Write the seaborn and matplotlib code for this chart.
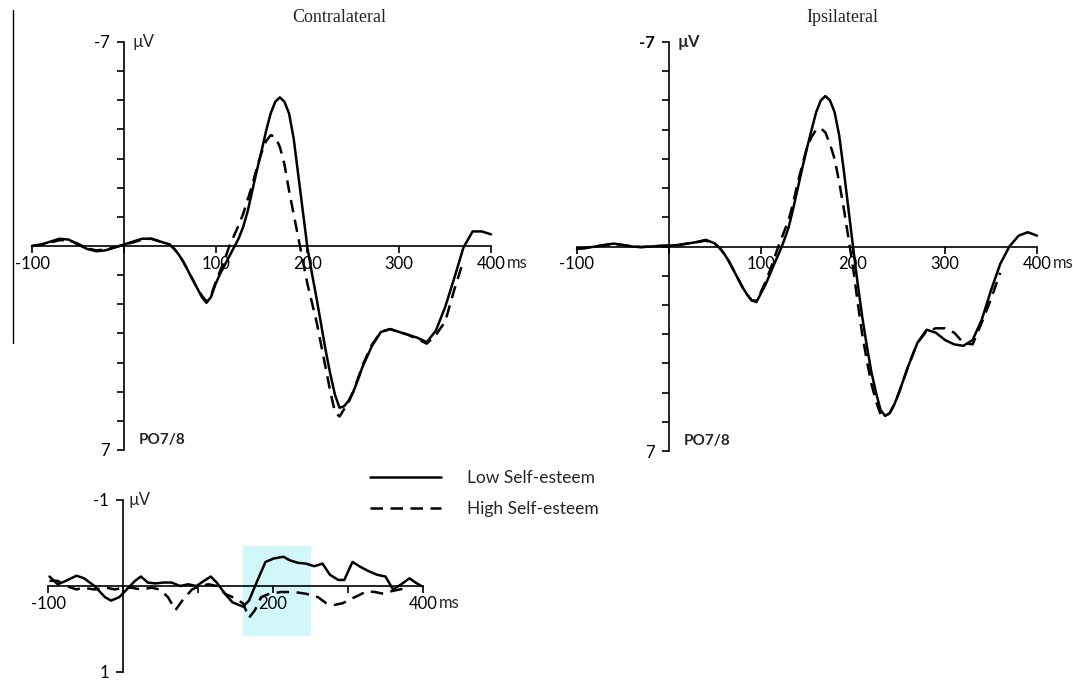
import numpy as np
import pandas as pd
import seaborn as sns
import matplotlib
matplotlib.use("Agg")
import matplotlib.pyplot as plt
from matplotlib.lines import Line2D

# ---- data (ms, µV; negative is drawn upward) ----
groups = ["Low Self-esteem", "High Self-esteem"]

# sampled every 10 ms, every 5 ms through the steep components
t_main = ([-100, -90, -80, -70, -60, -50, -40, -30, -20, -10, 0, 10, 20, 30, 40]
          + list(range(50, 261, 5)) + list(range(270, 401, 10)))

contra_low = [0.0, -0.05, -0.15, -0.25, -0.22, -0.05, 0.1, 0.18, 0.15, 0.05,
              -0.05, -0.15, -0.25, -0.25, -0.15,
              -0.05, 0.1, 0.3, 0.55, 0.85, 1.15, 1.45, 1.75, 1.95, 1.75,
              1.3, 0.95, 0.65, 0.35, 0.05, -0.25, -0.65, -1.2, -1.9, -2.6,
              -3.25, -3.95, -4.55, -4.95, -5.1, -4.95, -4.55, -3.7, -2.45, -1.2,
              0.05, 0.95, 1.8, 2.7, 3.6, 4.4, 5.1, 5.55, 5.5, 5.3,
              5.0, 4.6, 4.15,
              3.45, 2.95, 2.85, 2.95, 3.05, 3.15, 3.3, 2.9, 2.1, 1.1, 0.05, -0.5, -0.5, -0.4]
contra_high = [0.0, -0.05, -0.12, -0.2, -0.2, -0.08, 0.08, 0.15, 0.12, 0.05,
               -0.05, -0.12, -0.22, -0.25, -0.15,
               -0.05, 0.1, 0.3, 0.55, 0.85, 1.15, 1.45, 1.7, 1.9, 1.7,
               1.25, 0.85, 0.45, 0.0, -0.35, -0.7, -1.1, -1.6, -2.1, -2.7,
               -3.2, -3.6, -3.8, -3.75, -3.4, -2.8, -1.9, -1.1, -0.3, 0.5,
               1.3, 1.95, 2.6, 3.4, 4.2, 5.0, 5.7, 5.85, 5.6, 5.35,
               5.0, 4.55, 4.1,
               3.4, 2.95, 2.85, 2.95, 3.05, 3.2, 3.35, 3.05, 2.6, 1.5, 0.5]

ipsi_low = [0.08, 0.05, 0.0, -0.05, -0.1, -0.05, 0.0, 0.02, 0.0, -0.02,
            -0.03, -0.05, -0.1, -0.15, -0.23,
            -0.1, 0.05, 0.25, 0.5, 0.8, 1.1, 1.4, 1.65, 1.85, 1.9,
            1.6, 1.3, 0.93, 0.55, 0.2, -0.2, -0.65, -1.3, -2.0, -2.7,
            -3.37, -4.0, -4.6, -5.0, -5.15, -5.0, -4.6, -3.8, -2.6, -1.3,
            0.0, 1.25, 2.4, 3.4, 4.3, 5.0, 5.6, 5.8, 5.7, 5.4,
            5.0, 4.55, 4.1,
            3.3, 2.85, 2.95, 3.2, 3.35, 3.4, 3.2, 2.5, 1.5, 0.6, 0.0, -0.37, -0.49, -0.37]
ipsi_high = [0.08, 0.05, 0.0, -0.05, -0.08, -0.05, 0.0, 0.02, 0.0, -0.02,
             -0.03, -0.05, -0.1, -0.15, -0.2,
             -0.08, 0.05, 0.25, 0.5, 0.8, 1.1, 1.4, 1.65, 1.85, 1.85,
             1.55, 1.2, 0.8, 0.35, -0.1, -0.5, -0.9, -1.5, -2.2, -2.8,
             -3.4, -3.75, -4.0, -4.05, -3.9, -3.5, -3.0, -2.2, -1.3, -0.3,
             0.7, 1.9, 3.0, 3.9, 4.7, 5.3, 5.75, 5.8, 5.7, 5.4,
             5.0, 4.55, 4.1,
             3.3, 2.9, 2.8, 2.8, 2.95, 3.3, 3.35, 2.6, 1.8, 0.9]

# difference wave (contralateral minus ipsilateral)
diff_t_low = [-98, -87, -76, -62, -52, -38, -24, -16, -5, 5,
              16, 24, 33, 43, 54, 65, 76, 87, 98, 108,
              117, 125, 136, 146, 160, 168, 179, 190, 201, 214,
              222, 233, 244, 255, 266, 276, 287, 295, 306, 317,
              328, 339, 350, 360, 371, 382, 390, 398]
diff_low = [-0.11, -0.02, -0.06, -0.12, -0.09, 0.0, 0.13, 0.17, 0.13, 0.04,
            -0.06, -0.11, -0.04, -0.03, -0.04, -0.04, 0.0, -0.02, 0.0, -0.06,
            -0.11, -0.04, 0.09, 0.19, 0.24, 0.17, -0.06, -0.28, -0.32, -0.34,
            -0.3, -0.27, -0.26, -0.23, -0.26, -0.13, -0.07, -0.07, -0.28, -0.22,
            -0.17, -0.13, -0.11, 0.04, -0.02, -0.09, -0.04, 0.0]
diff_t_high = [-98, -87, -76, -62, -54, -38, -22, -11, 0, 11,
               24, 38, 49, 60, 70, 79, 92, 103, 114, 125,
               136, 146, 160, 168, 176, 184, 195, 211, 228, 244,
               260, 271, 282, 293, 304, 314, 325, 336, 347, 358,
               369, 379]
diff_high = [-0.06, -0.06, 0.0, 0.04, 0.02, 0.04, 0.02, 0.04, 0.02, 0.02,
             0.04, 0.02, 0.04, 0.13, 0.28, 0.17, 0.04, 0.0, -0.02, 0.0,
             0.09, 0.13, 0.2, 0.37, 0.28, 0.13, 0.09, 0.07, 0.07, 0.09,
             0.13, 0.2, 0.22, 0.2, 0.15, 0.11, 0.06, 0.07, 0.09, 0.06,
             0.04, 0.02]

window_ms = [160, 250]
window_uV = [-0.46, 0.58]

W, H = 1073, 680
TICKFONT = ["Lato", "DejaVu Sans"]


def make_df(t_low, v_low, t_high, v_high):
    a = pd.DataFrame({"ms": t_low, "uV": v_low, "group": groups[0]})
    b = pd.DataFrame({"ms": t_high, "uV": v_high, "group": groups[1]})
    return pd.concat([a, b], ignore_index=True)


def px_axes(fig, x0, x1, y0, y1):
    # pixel box of the data range -> axes in figure fraction
    ax = fig.add_axes([x0 / W, 1 - y1 / H, (x1 - x0) / W, (y1 - y0) / H])
    ax.patch.set_alpha(0)
    return ax


def draw_waves(ax, df, lw=1.8):
    sns.lineplot(data=df, x="ms", y="uV", style="group", style_order=groups,
                 dashes={groups[0]: "", groups[1]: (5, 3)}, color="black",
                 linewidth=lw, estimator=None, sort=False, legend=False, ax=ax)
    for ln in ax.lines:
        ln.set_clip_on(False)
        ln.set_zorder(3)
        ln.set_solid_joinstyle("round")
        ln.set_dash_joinstyle("round")


def style_axes(ax, ylim, yticks, ylabels, xticks, xlabels, fs=12):
    ax.set_xlim(-100, 400)
    ax.set_ylim(ylim)
    ax.spines["top"].set_visible(False)
    ax.spines["right"].set_visible(False)
    ax.spines["left"].set_position(("data", 0))
    ax.spines["bottom"].set_position(("data", 0))
    for s in ["left", "bottom"]:
        ax.spines[s].set_linewidth(1.2)
        ax.spines[s].set_color("black")
    ax.set_yticks(yticks)
    ax.set_yticklabels(ylabels)
    ax.set_xticks(xticks)
    ax.set_xticklabels(xlabels)
    ax.tick_params(axis="both", direction="out", length=5, width=1.2,
                   labelsize=fs, colors="black", left=True, bottom=True)
    ax.tick_params(axis="x", pad=2)
    ax.tick_params(axis="y", pad=5)
    ax.set_xlabel("")
    ax.set_ylabel("")
    for lab in ax.get_xticklabels() + ax.get_yticklabels():
        lab.set_family(TICKFONT)


sns.set_style("white")
plt.rcParams["font.family"] = TICKFONT

fig = plt.figure(figsize=(W / 100, H / 100), dpi=100)

main_yticks = list(range(-7, 8))
main_ylabels = ["-7"] + [""] * 13 + ["7"]
main_xticks = [-100, 0, 100, 200, 300, 400]
main_xlabels = ["-100", "", "100", "200", "300", "400"]

# contralateral
ax1 = px_axes(fig, 32, 491, 42, 450)
draw_waves(ax1, make_df(t_main, contra_low, t_main[:len(contra_high)], contra_high))
style_axes(ax1, (7, -7), main_yticks, main_ylabels, main_xticks, main_xlabels)
ax1.text(10, -7, "µV", fontsize=12, va="center", ha="left", family=TICKFONT)
ax1.text(16, 6.65, "PO7/8", fontsize=11, fontweight="bold", va="center", ha="left", family=TICKFONT)
ax1.annotate("ms", xy=(400, 0), xytext=(16, -17), textcoords="offset pixels",
             fontsize=12, va="center", ha="left", family=TICKFONT)

# ipsilateral
ax2 = px_axes(fig, 577, 1037, 42, 451)
draw_waves(ax2, make_df(t_main, ipsi_low, t_main[:len(ipsi_high)], ipsi_high))
style_axes(ax2, (7, -7), main_yticks, main_ylabels, main_xticks, main_xlabels)
ax2.get_yticklabels()[0].set_fontweight("bold")
ax2.text(9, -7, "µV", fontsize=12, fontweight="bold", va="center", ha="left", family=TICKFONT)
ax2.text(16, 6.65, "PO7/8", fontsize=11, fontweight="bold", va="center", ha="left", family=TICKFONT)
ax2.annotate("ms", xy=(400, 0), xytext=(16, -17), textcoords="offset pixels",
             fontsize=12, va="center", ha="left", family=TICKFONT)

# difference wave
ax3 = px_axes(fig, 48, 423, 500, 672)
ax3.fill_between(window_ms, window_uV[0], window_uV[1], color="#d2f7fa", lw=0, zorder=0)
draw_waves(ax3, make_df(diff_t_low, diff_low, diff_t_high, diff_high))
style_axes(ax3, (1, -1), [-1, 1], ["-1", "1"], main_xticks,
           ["-100", "", "", "200", "", "400"])
ax3.text(8, -1, "µV", fontsize=12, va="center", ha="left", family=TICKFONT)
ax3.annotate("ms", xy=(400, 0), xytext=(16, -17), textcoords="offset pixels",
             fontsize=12, va="center", ha="left", family=TICKFONT)

fig.text(339 / W, 1 - 18 / H, "Contralateral", ha="center", va="center",
         family="Liberation Serif", fontsize=13)
fig.text(842 / W, 1 - 18 / H, "Ipsilateral", ha="center", va="center",
         family="Liberation Serif", fontsize=13)

# legend
handles = [Line2D([], [], color="black", lw=1.8, linestyle="-"),
           Line2D([], [], color="black", lw=1.8, linestyle=(0, (5, 3)))]
fig.legend(handles, groups, loc="upper left", bbox_to_anchor=(370 / W, 1 - 470 / H),
           frameon=False, handlelength=4.1, handletextpad=1.5,
           labelspacing=0.85, borderpad=0, borderaxespad=0,
           prop={"family": TICKFONT, "size": 12.5})

# stray scan border on the left
fig.add_artist(Line2D([13 / W, 13 / W], [1 - 10 / H, 1 - 343 / H], color="black", lw=1))

fig.savefig("out.png", dpi=100)
